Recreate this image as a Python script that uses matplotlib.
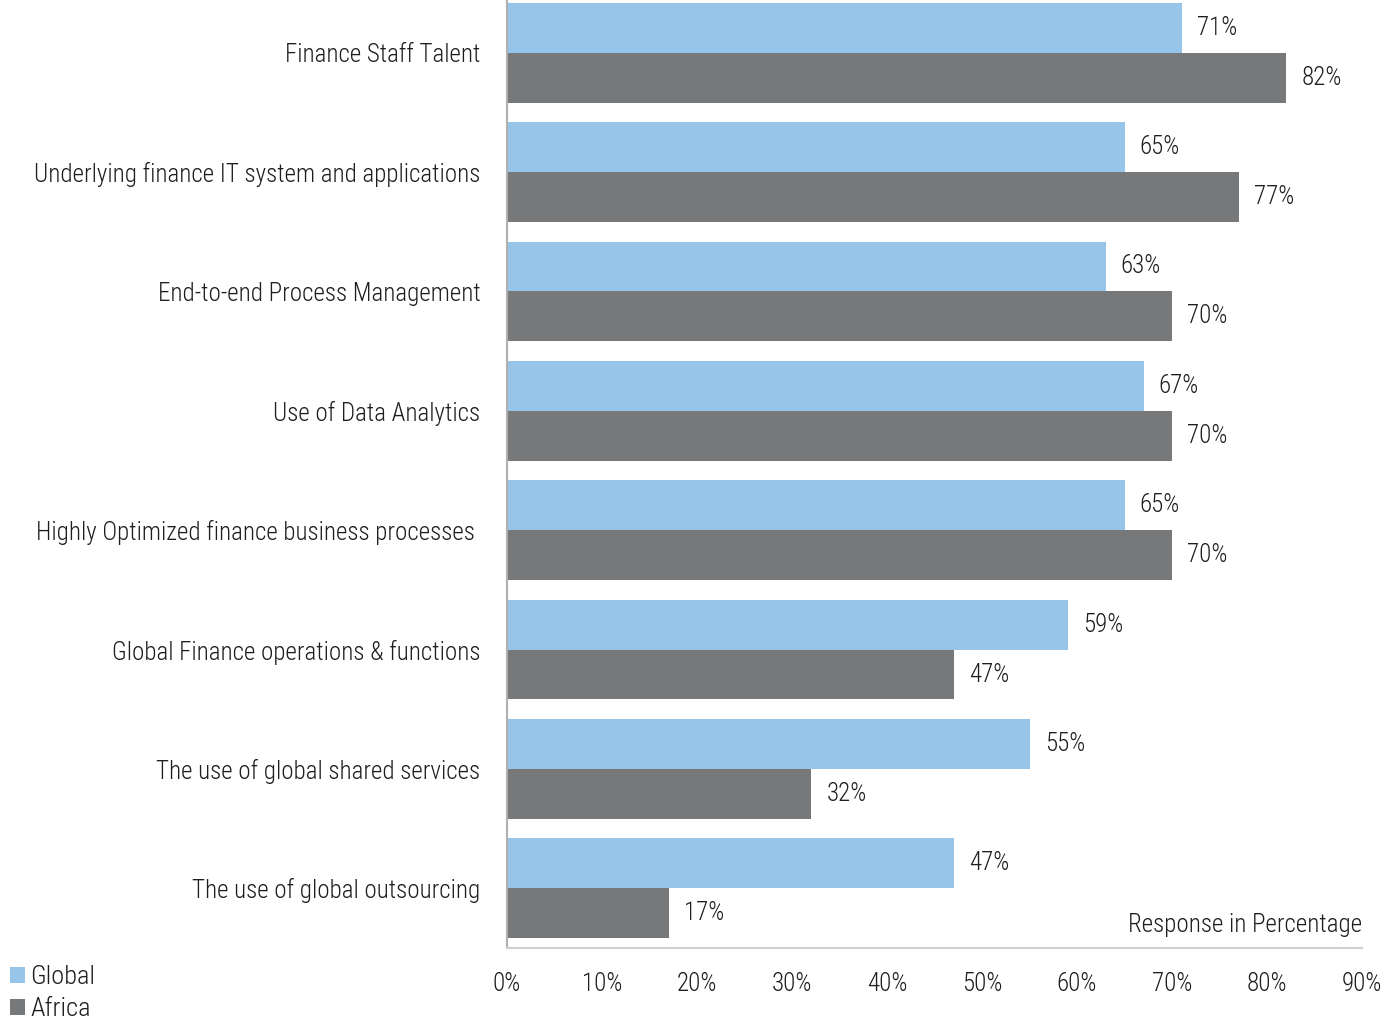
import matplotlib
matplotlib.use("Agg")
import matplotlib.pyplot as plt
from matplotlib import font_manager
import numpy as np

categories = [
    "Finance Staff Talent",
    "Underlying finance IT system and applications",
    "End-to-end Process Management",
    "Use of Data Analytics",
    "Highly Optimized finance business processes ",
    "Global Finance operations & functions",
    "The use of global shared services",
    "The use of global outsourcing",
]
global_vals = [71, 65, 63, 67, 65, 59, 55, 47]
africa_vals = [82, 77, 70, 70, 70, 47, 32, 17]
series_names = ["Global", "Africa"]
x_ticks = [0, 10, 20, 30, 40, 50, 60, 70, 80, 90]
axis_title = "Response in Percentage"

# Prefer a condensed face when one is installed
installed = {f.name for f in font_manager.fontManager.ttflist}
candidates = ["Roboto Condensed", "Liberation Sans Narrow", "Open Sans Condensed",
              "Noto Sans Condensed", "DejaVu Sans Condensed"]
condensed = next((c for c in candidates if c in installed), None)
if condensed:
    family = [condensed, "DejaVu Sans"]
    CAT_FS, VAL_FS = 18, 18
else:
    family = ["Roboto", "DejaVu Sans"]
    CAT_FS, VAL_FS = 15.5, 17
plt.rcParams["font.family"] = family
WEIGHT = "light"

BLUE = "#97c5e9"
GREY = "#77787a"
TEXT = "#1e1e1e"

fig = plt.figure(figsize=(13.97, 10.23), dpi=100)
ax = fig.add_axes([507 / 1397, 75 / 1023, 855 / 1397, 955 / 1023])

y = np.arange(len(categories))
h = 0.418
ax.barh(y - h / 2, global_vals, height=h, color=BLUE, label=series_names[0])
ax.barh(y + h / 2, africa_vals, height=h, color=GREY, label=series_names[1])

for yi, g, a in zip(y, global_vals, africa_vals):
    ax.annotate(f"{g}%", (g, yi - h / 2), xytext=(11, 0), textcoords="offset points",
                va="center", ha="left", fontsize=VAL_FS, color=TEXT, fontweight=WEIGHT)
    ax.annotate(f"{a}%", (a, yi + h / 2), xytext=(11, 0), textcoords="offset points",
                va="center", ha="left", fontsize=VAL_FS, color=TEXT, fontweight=WEIGHT)

ax.set_xlim(0, 90)
ax.set_ylim(len(categories) - 0.5, -0.5)
ax.set_xticks(x_ticks)
ax.set_xticklabels([f"{t}%" for t in x_ticks], fontsize=VAL_FS, color=TEXT, fontweight=WEIGHT)
ax.set_yticks(y)
ax.set_yticklabels(categories, fontsize=CAT_FS, color=TEXT, fontweight=WEIGHT)
ax.tick_params(axis="both", length=0)
ax.tick_params(axis="x", pad=17)
ax.tick_params(axis="y", pad=19)

for side in ("top", "right"):
    ax.spines[side].set_visible(False)
ax.spines["left"].set_color("#b0b0b0")
ax.spines["left"].set_linewidth(1.5)
ax.spines["bottom"].set_color("#d0d0d0")
ax.spines["bottom"].set_linewidth(1.5)

ax.text(1.0, 0.012, axis_title, transform=ax.transAxes, ha="right", va="bottom",
        fontsize=VAL_FS, color=TEXT, fontweight=WEIGHT)

leg = fig.legend(loc="lower left", bbox_to_anchor=(-0.006, -0.0165), frameon=False,
                 fontsize=VAL_FS + 1, handlelength=0.55, handleheight=0.55, handletextpad=0.22,
                 labelspacing=0.32, borderaxespad=0.3, labelcolor=TEXT)
for t in leg.get_texts():
    t.set_fontweight(WEIGHT)

fig.savefig("out.png", dpi=100)
